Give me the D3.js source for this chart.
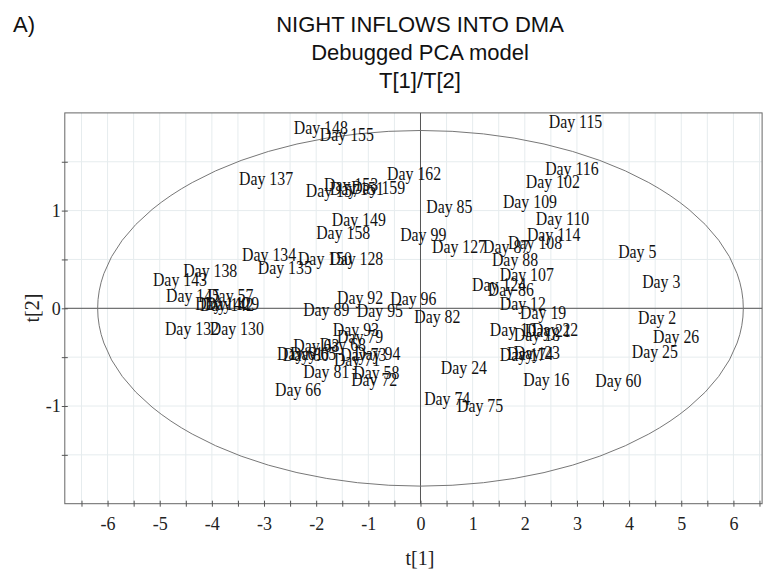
<!DOCTYPE html>
<html>
<head>
<meta charset="utf-8">
<script src="https://cdn.jsdelivr.net/npm/d3@7"></script>
<style>
  body { margin: 0; background: #fff; }
  svg { display: block; }
  .lbl { font-family: "Liberation Serif", "Times New Roman", serif; font-size: 18px; fill: #111; }
  .tick text { font-family: "Liberation Serif", "Times New Roman", serif; font-size: 18px; fill: #222; }
  .tick line, .domain { stroke: #555; }
</style>
</head>
<body>
<div id="chart"></div>
<script>
// score labels (Day numbers) and their positions in t[1]/t[2] space
const days = [148, 155, 115, 137, 162, 116, 102, 153, 157, 151, 159, 109, 85, 110, 149, 158,
  99, 114, 127, 87, 108, 5, 134, 150, 128, 135, 88, 138, 107, 3, 143, 124, 86, 145, 57, 92,
  96, 140, 142, 129, 12, 89, 95, 19, 82, 2, 132, 130, 93, 10, 22, 18, 21, 79, 26, 63, 68,
  25, 61, 80, 65, 94, 73, 23, 17, 14, 71, 24, 81, 58, 72, 16, 60, 66, 74, 75];
const t1 = [-2.43, -1.93, 2.46, -3.48, -0.64, 2.39, 2.02, -1.85, -2.20, -1.74, -1.33, 1.58, 0.11, 2.21, -1.70, -2.00,
  -0.39, 2.04, 0.22, 1.20, 1.68, 3.79, -3.42, -2.35, -1.75, -3.12, 1.37, -4.55, 1.52, 4.25, -5.13, 0.99, 1.29, -4.88, -4.09, -1.60,
  -0.58, -4.32, -4.23, -4.13, 1.52, -2.25, -1.22, 1.91, -0.12, 4.17, -4.90, -4.04, -1.68, 1.33, 2.14, 1.79, 2.00, -1.60, 4.46, -2.44, -1.93,
  4.05, -2.75, -2.64, -2.50, -1.27, -1.54, 1.79, 1.52, 1.66, -1.66, 0.39, -2.25, -1.29, -1.33, 1.97, 3.35, -2.79, 0.07, 0.70];
const t2 = [1.85, 1.78, 1.91, 1.33, 1.38, 1.43, 1.30, 1.27, 1.20, 1.22, 1.23, 1.09, 1.04, 0.92, 0.91, 0.77,
  0.75, 0.75, 0.63, 0.63, 0.67, 0.58, 0.55, 0.51, 0.51, 0.42, 0.50, 0.39, 0.34, 0.27, 0.29, 0.24, 0.19, 0.13, 0.13, 0.11,
  0.10, 0.05, 0.04, 0.05, 0.05, -0.01, -0.02, -0.04, -0.09, -0.10, -0.21, -0.21, -0.22, -0.22, -0.22, -0.27, -0.23, -0.29, -0.29, -0.38, -0.37,
  -0.44, -0.46, -0.47, -0.46, -0.46, -0.48, -0.45, -0.48, -0.46, -0.53, -0.61, -0.65, -0.66, -0.73, -0.73, -0.74, -0.83, -0.93, -1.00];

// Hotelling T2 ellipse radii (t units)
const ellipseR = [6.19, 1.82];

const xTicks = d3.range(-6.5, 6.51, 0.5);
const yTicks = d3.range(-1.5, 1.51, 0.5);

const titleLines = ["NIGHT INFLOWS INTO DMA", "Debugged PCA model", "T[1]/T[2]"];

var width = 763, height = 569;

var svg = d3.select("#chart").append("svg")
    .attr("width", width)
    .attr("height", height);

var x = d3.scaleLinear().domain([-6.82, 6.55]).range([64.8, 762.1]);
var y = d3.scaleLinear().domain([-2, 2]).range([503.7, 112.9]);

// grid
svg.append("g").selectAll("line.gx")
    .data(xTicks).enter().append("line")
    .attr("x1", d => x(d)).attr("x2", d => x(d))
    .attr("y1", y(2)).attr("y2", y(-2))
    .attr("stroke", "#e6ecee").attr("stroke-width", 1);
svg.append("g").selectAll("line.gy")
    .data(yTicks).enter().append("line")
    .attr("x1", x(-6.82)).attr("x2", x(6.55))
    .attr("y1", d => y(d)).attr("y2", d => y(d))
    .attr("stroke", "#e6ecee").attr("stroke-width", 1);

// frame
svg.append("rect")
    .attr("x", x(-6.82)).attr("y", y(2))
    .attr("width", x(6.55) - x(-6.82)).attr("height", y(-2) - y(2))
    .attr("fill", "none").attr("stroke", "#666");

// zero lines
svg.append("line")
    .attr("x1", x(0)).attr("x2", x(0)).attr("y1", y(2)).attr("y2", y(-2))
    .attr("stroke", "#555");
svg.append("line")
    .attr("x1", x(-6.82)).attr("x2", x(6.55)).attr("y1", y(0)).attr("y2", y(0))
    .attr("stroke", "#555");

// axes
var fmt = d => Number.isInteger(d) ? String(d) : "";
var gx = svg.append("g")
    .attr("transform", "translate(0," + y(-2) + ")")
    .call(d3.axisBottom(x).tickValues(xTicks).tickSize(3).tickFormat(fmt));
gx.select(".domain").remove();
gx.selectAll(".tick line").attr("y1", -3).attr("y2", 3);
gx.selectAll(".tick text").attr("y", 14);

var gy = svg.append("g")
    .attr("transform", "translate(" + x(-6.82) + ",0)")
    .call(d3.axisLeft(y).tickValues(d3.range(-1.5, 1.51, 0.5)).tickSize(3).tickFormat(fmt));
gy.select(".domain").remove();
gy.selectAll(".tick line").attr("x1", -3).attr("x2", 3);
gy.selectAll(".tick text").attr("x", -4);

// ellipse
svg.append("ellipse")
    .attr("cx", x(0)).attr("cy", y(0))
    .attr("rx", x(ellipseR[0]) - x(0))
    .attr("ry", y(0) - y(ellipseR[1]))
    .attr("fill", "none").attr("stroke", "#777").attr("stroke-width", 1);

// labels
var pts = days.map((d, i) => ({day: d, t1: t1[i], t2: t2[i]}));
svg.append("g").selectAll("text")
    .data(pts).enter().append("text")
    .attr("class", "lbl")
    .attr("transform", d => "translate(" + x(d.t1) + "," + y(d.t2) + ") scale(0.88,1)")
    .attr("dy", "0.35em")
    .text(d => "Day " + d.day);

// titles
svg.append("g").selectAll("text")
    .data(titleLines).enter().append("text")
    .attr("x", 420).attr("y", (d, i) => 32 + i * 28)
    .attr("text-anchor", "middle")
    .style("font-family", "'Liberation Sans', Arial, sans-serif")
    .style("font-size", "22px").style("fill", "#111")
    .text(d => d);

svg.append("text")
    .attr("x", 13).attr("y", 32)
    .style("font-family", "'Liberation Sans', Arial, sans-serif")
    .style("font-size", "22px").style("fill", "#111")
    .text("A)");

svg.append("text")
    .attr("x", 420).attr("y", 565)
    .attr("text-anchor", "middle")
    .style("font-family", "'Liberation Serif', 'Times New Roman', serif")
    .style("font-size", "20px").style("fill", "#222")
    .text("t[1]");

svg.append("text")
    .attr("transform", "translate(39,308) rotate(-90)")
    .attr("text-anchor", "middle")
    .style("font-family", "'Liberation Serif', 'Times New Roman', serif")
    .style("font-size", "20px").style("fill", "#222")
    .text("t[2]");
</script>
</body>
</html>
